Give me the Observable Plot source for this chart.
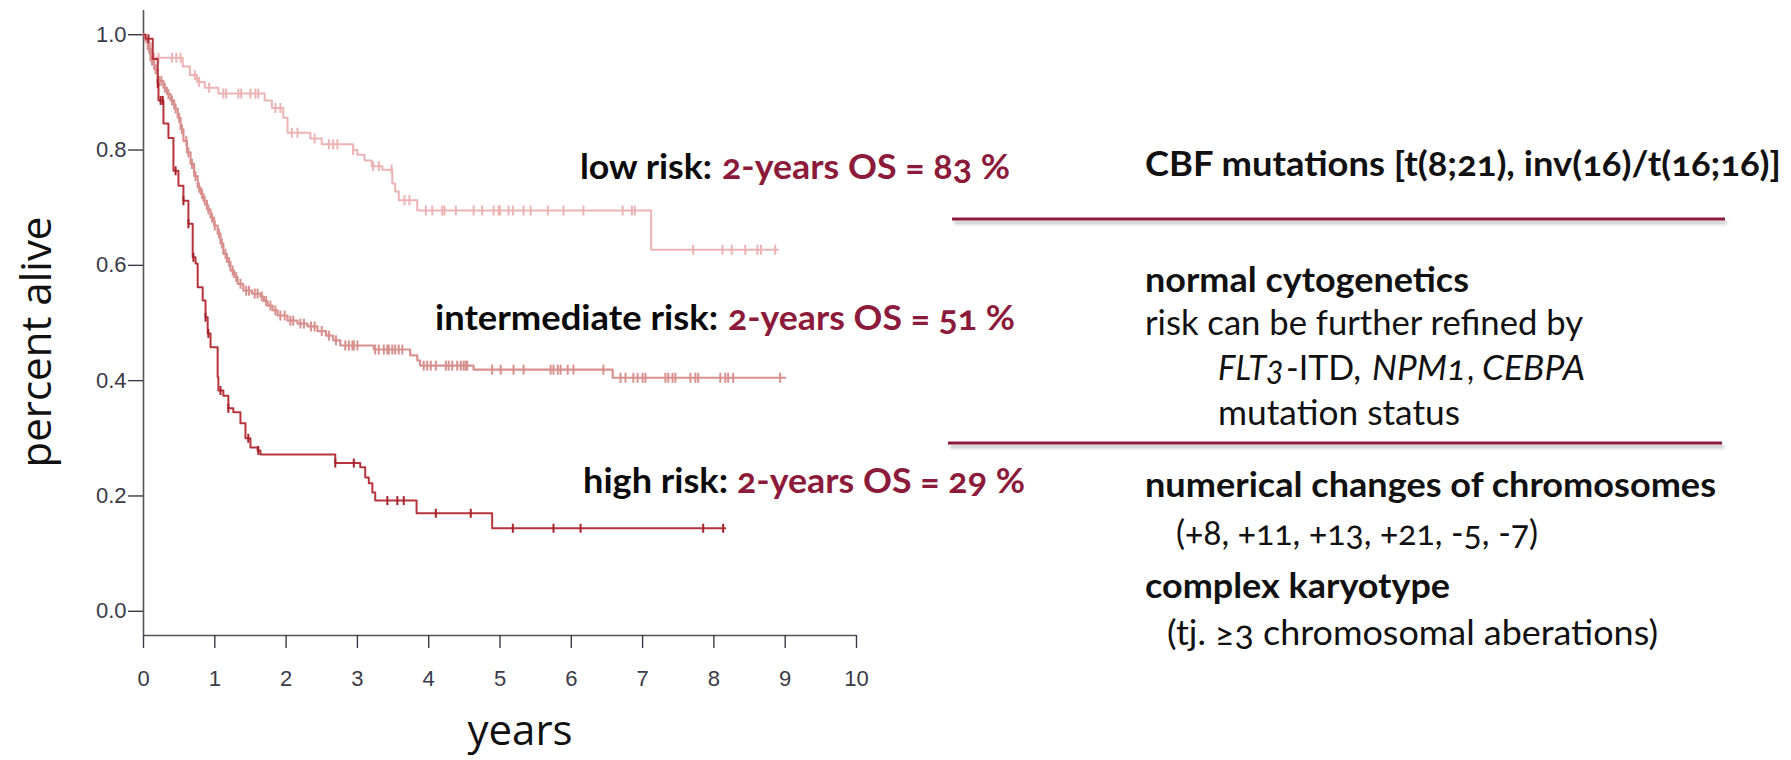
<!DOCTYPE html>
<html><head><meta charset="utf-8">
<script src="https://cdn.jsdelivr.net/npm/d3@7"></script>
<script src="https://cdn.jsdelivr.net/npm/@observablehq/plot@0.6"></script>
<style>
html,body{margin:0;padding:0;background:#fff;}
#wrap{position:relative;width:1791px;height:760px;overflow:hidden;background:#fff;}
#wrap svg{position:absolute;left:0;top:0;}
</style></head><body><div id="wrap"></div>
<script>
// ---------- data ----------
const xTicks = [0,1,2,3,4,5,6,7,8,9,10];
const yTicks = [0,0.2,0.4,0.6,0.8,1.0];

// low risk: step times / survival after step
const lowT = [0, 0.04, 0.10, 0.55, 0.65, 0.75, 0.86, 1.05, 1.70, 1.80, 1.96, 2.02, 2.34, 2.50, 2.94, 3.00, 3.10, 3.20, 3.35, 3.49, 3.53, 3.58, 3.84, 7.12, 8.90];
const lowS = [1.0, 0.985, 0.960, 0.945, 0.930, 0.918, 0.908, 0.898, 0.886, 0.873, 0.856, 0.830, 0.820, 0.810, 0.800, 0.792, 0.782, 0.772, 0.766, 0.742, 0.728, 0.713, 0.695, 0.627, 0.627];
const lowCens = [0.15, 0.21, 0.40, 0.46, 0.52, 0.72, 0.78, 0.92, 1.12, 1.16, 1.33, 1.37, 1.50, 1.57, 1.61, 1.85, 1.92, 2.08, 2.16, 2.40, 2.60, 2.66, 2.72, 2.94, 3.22, 3.30, 3.48, 3.66, 3.73, 3.96, 4.05, 4.19, 4.22, 4.38, 4.63, 4.75, 4.91, 4.98, 5.00, 5.12, 5.18, 5.33, 5.43, 5.67, 5.89, 6.17, 6.72, 6.85, 6.89, 7.71, 8.12, 8.25, 8.44, 8.61, 8.66, 8.86];

// intermediate risk
const midT = [0, 0.02, 0.06, 0.10, 0.15, 0.20, 0.28, 0.33, 0.38, 0.43, 0.48, 0.52, 0.56, 0.61, 0.66, 0.71, 0.76, 0.80, 0.84, 0.89, 0.94, 0.99, 1.04, 1.08, 1.12, 1.17, 1.22, 1.27, 1.32, 1.40, 1.52, 1.64, 1.69, 1.74, 1.81, 1.88, 2.02, 2.16, 2.30, 2.44, 2.56, 2.66, 2.76, 3.23, 3.74, 3.84, 3.88, 4.63, 6.58, 9.00];
const midS = [1.0, 0.990, 0.975, 0.955, 0.940, 0.920, 0.908, 0.897, 0.886, 0.872, 0.856, 0.836, 0.816, 0.796, 0.776, 0.755, 0.735, 0.724, 0.712, 0.697, 0.683, 0.669, 0.655, 0.638, 0.620, 0.606, 0.591, 0.580, 0.568, 0.556, 0.551, 0.546, 0.538, 0.530, 0.522, 0.513, 0.504, 0.499, 0.494, 0.486, 0.478, 0.470, 0.461, 0.454, 0.444, 0.435, 0.426, 0.419, 0.405, 0.405];
const midCens = [0.08, 0.12, 0.17, 0.22, 0.25, 0.30, 0.35, 0.40, 0.45, 0.50, 0.54, 0.60, 0.63, 0.68, 0.73, 0.78, 0.82, 0.86, 0.91, 0.96, 1.00, 1.06, 1.10, 1.15, 1.20, 1.25, 1.30, 1.36, 1.44, 1.48, 1.56, 1.60, 1.66, 1.72, 1.78, 1.85, 1.92, 1.98, 2.06, 2.10, 2.20, 2.25, 2.35, 2.40, 2.50, 2.60, 2.70, 2.83, 2.88, 2.93, 2.95, 3.00, 3.25, 3.30, 3.37, 3.42, 3.44, 3.49, 3.53, 3.58, 3.63, 3.93, 3.98, 4.03, 4.10, 4.24, 4.28, 4.33, 4.40, 4.45, 4.49, 4.52, 4.54, 4.89, 5.01, 5.19, 5.33, 5.71, 5.75, 5.81, 5.85, 5.95, 6.03, 6.45, 6.69, 6.76, 6.87, 6.93, 7.00, 7.04, 7.32, 7.36, 7.42, 7.46, 7.67, 7.74, 7.78, 8.09, 8.16, 8.20, 8.27, 8.93];

// high risk
const highT = [0, 0.03, 0.13, 0.20, 0.21, 0.28, 0.35, 0.42, 0.49, 0.56, 0.63, 0.69, 0.73, 0.76, 0.83, 0.87, 0.90, 0.94, 1.04, 1.05, 1.12, 1.19, 1.26, 1.36, 1.43, 1.50, 1.60, 1.64, 2.69, 3.04, 3.11, 3.16, 3.21, 3.25, 3.83, 4.89, 8.16];
const highS = [1.0, 0.993, 0.958, 0.915, 0.886, 0.846, 0.821, 0.764, 0.738, 0.712, 0.672, 0.614, 0.603, 0.562, 0.539, 0.510, 0.482, 0.458, 0.406, 0.383, 0.374, 0.352, 0.345, 0.326, 0.300, 0.284, 0.279, 0.272, 0.257, 0.250, 0.232, 0.222, 0.206, 0.192, 0.170, 0.144, 0.144];
const highCens = [0.07, 0.20, 0.24, 0.27, 0.45, 0.56, 0.63, 0.70, 0.87, 0.91, 1.08, 1.19, 1.47, 1.61, 2.69, 2.95, 3.42, 3.56, 3.65, 4.10, 4.59, 5.18, 5.75, 6.13, 7.85, 8.13];

// text
const riskNames = ["low risk:", "intermediate risk:", "high risk:"];
const osTexts = ["2-years OS = 83 %", "2-years OS = 51 %", "2-years OS = 29 %"];
const xLabel = "years";
const yLabel = "percent alive";

// ---------- helpers ----------
const yDomain = [-0.042, 1.042];
const survAt = (T, S, t) => S[Math.max(0, d3.bisectRight(T, t) - 1)];
const curve = (T, S) => T.map((t, i) => ({t, s: S[i]}));
const cens = (C, T, S) => C.map(t => ({t, s: survAt(T, S, t)}));
const vtick = {draw(ctx, size) { const h = Math.sqrt(size / Math.PI); ctx.moveTo(0, -h); ctx.lineTo(0, h); }};

const colLow = "#ecb3b5", colMid = "#d8918f", colHigh = "#b8343d";

const chart = Plot.plot({
  width: 1000, height: 760,
  marginLeft: 143, marginRight: 144, marginTop: 10, marginBottom: 125,
  x: {domain: [0, 10]},
  y: {domain: yDomain},
  style: {background: "transparent", fontFamily: "'Liberation Sans', Arial, sans-serif", fontSize: "22px", overflow: "visible"},
  marks: [
    Plot.ruleX([0], {stroke: "#555", strokeWidth: 1.6}),
    Plot.ruleY([yDomain[0]], {x1: 0, x2: 10, stroke: "#555", strokeWidth: 1.6}),
    Plot.axisY({ticks: yTicks, tickSize: 15, tickPadding: 2, tickFormat: d3.format(".1f"), label: null, color: "#3a3a48", strokeWidth: 1.4}),
    Plot.axisX({ticks: xTicks, tickSize: 13, tickPadding: 22, tickFormat: d3.format("d"), label: null, color: "#3a3a48", strokeWidth: 1.4}),
    Plot.line(curve(lowT, lowS), {x: "t", y: "s", curve: "step-after", stroke: colLow, strokeWidth: 2}),
    Plot.dot(cens(lowCens, lowT, lowS), {x: "t", y: "s", symbol: vtick, r: 5, fill: "none", stroke: colLow, strokeWidth: 2}),
    Plot.line(curve(midT, midS), {x: "t", y: "s", curve: "step-after", stroke: colMid, strokeWidth: 2.2}),
    Plot.dot(cens(midCens, midT, midS), {x: "t", y: "s", symbol: vtick, r: 5, fill: "none", stroke: colMid, strokeWidth: 2}),
    Plot.line(curve(highT, highS), {x: "t", y: "s", curve: "step-after", stroke: colHigh, strokeWidth: 2}),
    Plot.dot(cens(highCens, highT, highS), {x: "t", y: "s", symbol: vtick, r: 4.5, fill: "none", stroke: "#a8222c", strokeWidth: 2}),
    Plot.text([yLabel], {text: d => d, frameAnchor: "left", rotate: -90, dx: -93, dy: 19, lineAnchor: "bottom", textAnchor: "middle",
      fontFamily: "'Open Sans', sans-serif", fontSize: 42, fontWeight: 400, fill: "#111"}),
    Plot.text([xLabel], {text: d => d, frameAnchor: "bottom", dx: 20, dy: 109, lineAnchor: "bottom", textAnchor: "middle",
      fontFamily: "'Open Sans', sans-serif", fontSize: 42, fontWeight: 400, fill: "#111"})
  ]
});
document.getElementById("wrap").appendChild(chart);

// ---------- annotations overlay ----------
const ov = d3.select("#wrap").append("svg").attr("width", 1791).attr("height", 760).style("pointer-events", "none");
const defs = ov.append("defs");
defs.append("filter").attr("id", "blur").attr("filterUnits", "userSpaceOnUse")
  .attr("x", 0).attr("y", 0).attr("width", 1791).attr("height", 760)
  .append("feGaussianBlur").attr("stdDeviation", 1.5);

const FONT = "Lato, 'Open Sans', sans-serif";
const burg = "#8c1a3a";
function addText(x, y, w, str, o = {}) {
  const t = ov.append("text").attr("x", x).attr("y", y)
    .attr("font-family", FONT).attr("font-size", o.size || 34).attr("font-weight", o.bold ? 700 : 400)
    .attr("fill", o.fill || "#111").style("font-variant-numeric", "oldstyle-nums")
    .attr("textLength", w).attr("lengthAdjust", "spacingAndGlyphs").text(str);
  if (o.italic) t.attr("font-style", "italic");
  return t;
}
// divider lines with soft grey shadow
[[952, 1725, 219], [948, 1722, 443]].forEach(([x1, x2, y]) => {
  ov.append("line").attr("x1", x1 + 2).attr("x2", x2 + 2).attr("y1", y + 3.5).attr("y2", y + 3.5)
    .attr("stroke", "#9a9a9a").attr("stroke-opacity", 0.55).attr("stroke-width", 3.5).attr("filter", "url(#blur)");
  ov.append("line").attr("x1", x1).attr("x2", x2).attr("y1", y).attr("y2", y)
    .attr("stroke", burg).attr("stroke-width", 3);
});
// risk labels
const riskLayout = [
  {x: 580, x2: 722, y: 179, w1: 132, w2: 288},
  {x: 435, x2: 728, y: 330, w1: 283, w2: 287},
  {x: 583, x2: 737, y: 493, w1: 145, w2: 288}
];
riskLayout.forEach((L, i) => {
  addText(L.x, L.y, L.w1, riskNames[i], {bold: true, fill: "#0a0a0a"});
  addText(L.x2, L.y, L.w2, osTexts[i], {bold: true, fill: burg});
});

// right panel
addText(1145, 176, 636, "CBF mutations [t(8;21), inv(16)/t(16;16)]", {bold: true});
addText(1145, 292, 324, "normal cytogenetics", {bold: true});
addText(1145, 335, 438, "risk can be further refined by");
addText(1218, 380, 66, "FLT3", {italic: true});
addText(1286, 380, 75, "-ITD,");
addText(1372, 380, 94, "NPM1", {italic: true});
addText(1467, 380, 7, ",");
addText(1482, 380, 103, "CEBPA", {italic: true});
addText(1218, 425, 242, "mutation status");
addText(1145, 497, 571, "numerical changes of chromosomes", {bold: true});
addText(1176, 545, 362, "(+8, +11, +13, +21, -5, -7)");
addText(1145, 598, 305, "complex karyotype", {bold: true});
addText(1167, 645, 491, "(tj. \u22653 chromosomal aberations)");
</script></body></html>
